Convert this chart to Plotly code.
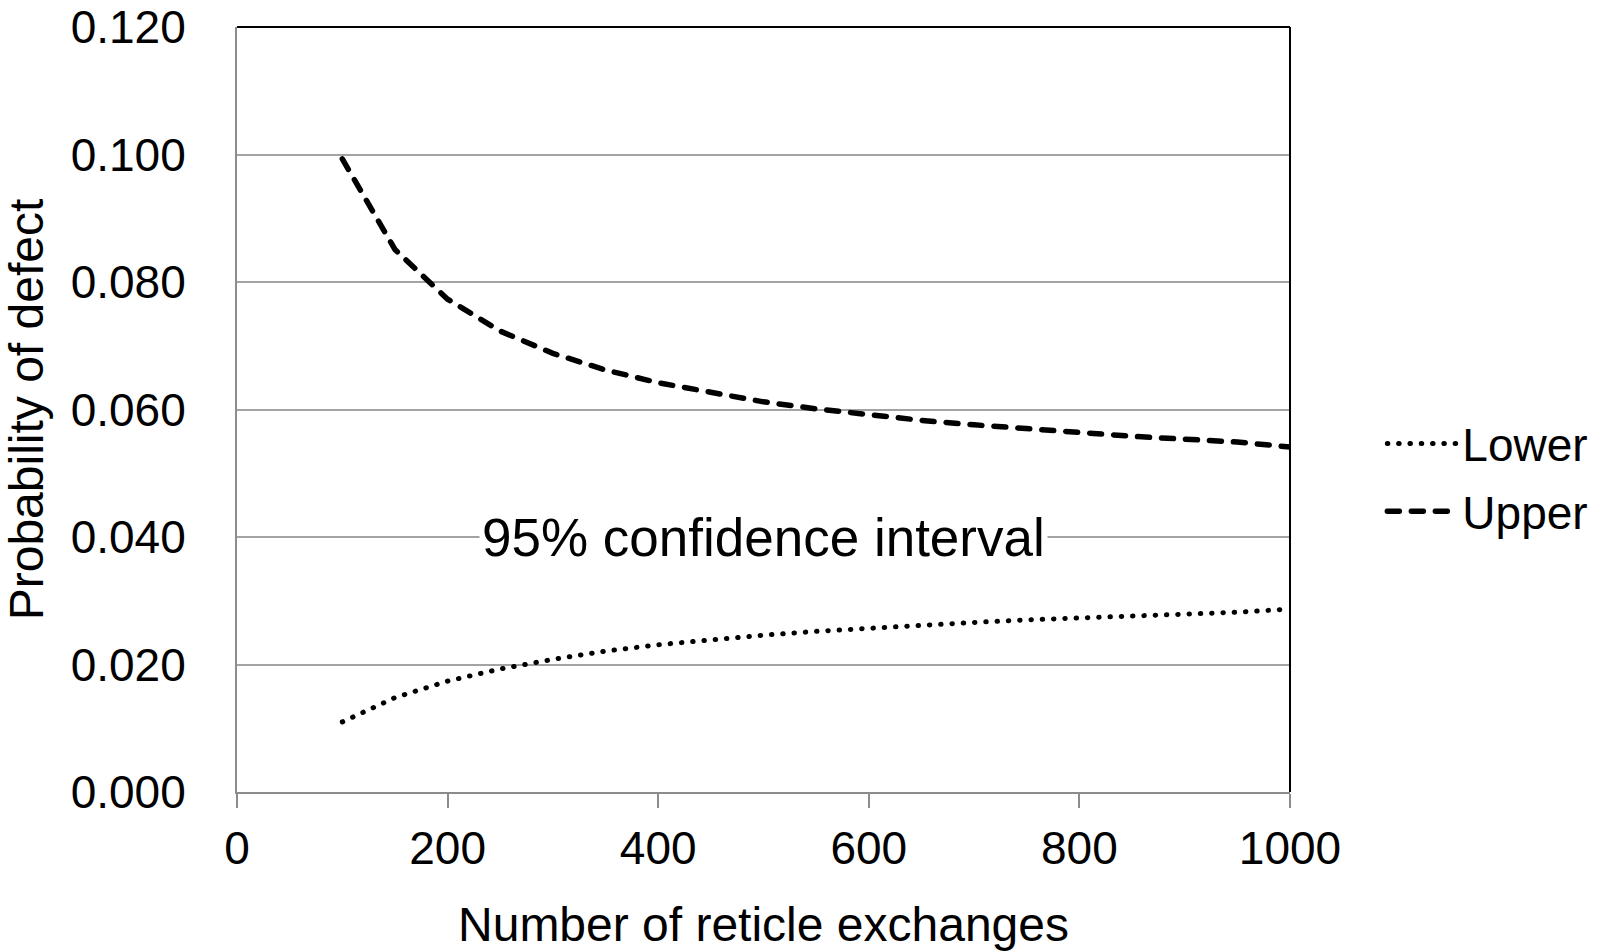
import plotly.graph_objects as go

# Number of reticle exchanges and the bounds of the 95% confidence interval
exchanges = [100, 150, 200, 250, 300, 350, 400, 450, 500, 550,
             600, 650, 700, 750, 800, 850, 900, 950, 1000]
lower = [0.0110, 0.0148, 0.0174, 0.0193, 0.0208, 0.0221, 0.0231, 0.0239, 0.0246, 0.0252,
         0.0257, 0.0262, 0.0266, 0.0270, 0.0273, 0.0276, 0.0279, 0.0282, 0.0287]
upper = [0.0993, 0.0851, 0.0773, 0.0723, 0.0688, 0.0662, 0.0642, 0.0626, 0.0612, 0.0601,
         0.0591, 0.0583, 0.0576, 0.0569, 0.0564, 0.0558, 0.0554, 0.0549, 0.0541]

y_ticks = [0.0, 0.02, 0.04, 0.06, 0.08, 0.10, 0.12]
y_tick_text = ["0.000", "0.020", "0.040", "0.060", "0.080", "0.100", "0.120"]
x_ticks = [0, 200, 400, 600, 800, 1000]

FONT = "Liberation Sans, Arial, Helvetica, sans-serif"
GRID = "#A3A3A3"
AXIS = "#8C8C8C"

fig = go.Figure()
fig.add_trace(go.Scatter(
    x=exchanges, y=lower, mode="lines", name="Lower", legendgroup="lower",
    line=dict(color="black", width=5, dash="0.5px,10.8px"),
))
fig.add_trace(go.Scatter(
    x=exchanges, y=upper, mode="lines", name="Upper", legendgroup="upper",
    line=dict(color="black", width=5.5, dash="12px,12px"),
))

fig.add_annotation(
    x=500, y=0.04, xref="x", yref="y", text="95% confidence interval",
    showarrow=False, font=dict(family=FONT, size=53, color="black"),
    bgcolor="white", borderpad=2, xanchor="center", yanchor="middle",
)

# black frame on the top and right of the plot area
fig.add_shape(type="line", xref="paper", yref="paper", x0=0, x1=1, y0=1, y1=1,
              line=dict(color="black", width=2))
fig.add_shape(type="line", xref="paper", yref="paper", x0=1, x1=1, y0=0, y1=1,
              line=dict(color="black", width=2))

fig.update_layout(
    width=1602, height=951,
    margin=dict(l=237, r=312, t=27, b=159, autoexpand=False),
    paper_bgcolor="white", plot_bgcolor="white",
    font=dict(family=FONT, size=46, color="black"),
    showlegend=True,
    legend=dict(
        x=1.0877, y=0.411, xanchor="left", yanchor="middle",
        traceorder="grouped", tracegroupgap=5, itemwidth=70,
        font=dict(family=FONT, size=46, color="black"),
        bgcolor="rgba(0,0,0,0)",
    ),
    xaxis=dict(
        range=[0, 1000], tickmode="array", tickvals=x_ticks,
        showgrid=False, zeroline=False,
        showline=True, linecolor=AXIS, linewidth=2,
        ticks="outside", ticklen=14, tickwidth=2, tickcolor=AXIS,
        ticklabelstandoff=1,
        tickfont=dict(family=FONT, size=46, color="black"),
        title=dict(text="Number of reticle exchanges", standoff=41,
                   font=dict(family=FONT, size=48, color="black")),
    ),
    yaxis=dict(
        range=[0, 0.12], tickmode="array", tickvals=y_ticks, ticktext=y_tick_text,
        showgrid=True, gridcolor=GRID, gridwidth=2, zeroline=False,
        showline=True, linecolor=AXIS, linewidth=2,
        ticks="", ticklabelstandoff=40,
        tickfont=dict(family=FONT, size=46, color="black"),
        title=dict(text="Probability of defect", standoff=20,
                   font=dict(family=FONT, size=48, color="black")),
    ),
)

round_caps = """
var s = document.createElement('style');
s.textContent = 'path.js-line { stroke-linecap: round; }';
document.head.appendChild(s);
"""
fig.write_html("out.html", post_script=round_caps)
